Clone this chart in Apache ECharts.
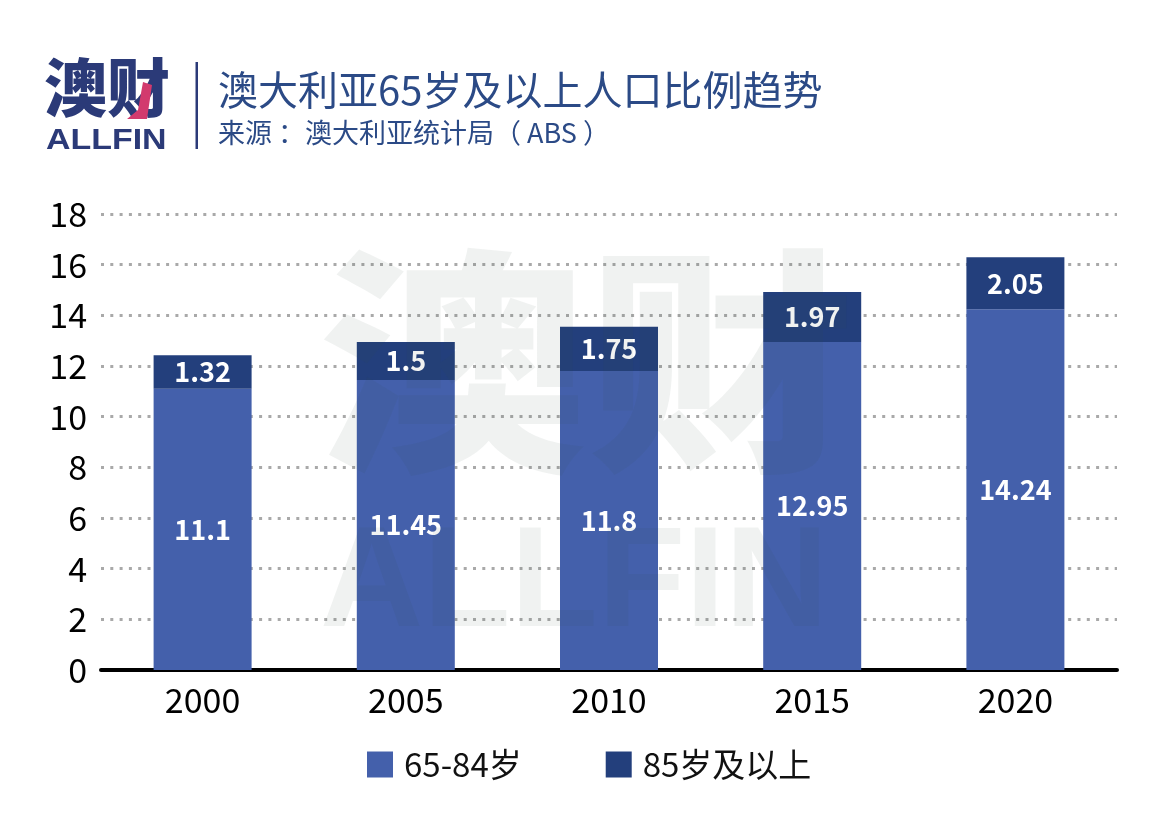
<!DOCTYPE html>
<html>
<head>
<meta charset="utf-8">
<style>html,body{margin:0;padding:0;background:#fff}#main{width:1165px;height:827px}</style>
<script src="https://cdn.jsdelivr.net/npm/echarts@6/dist/echarts.min.js"></script>
</head>
<body>
<div id="main"></div>
<script>
var years = ['2000', '2005', '2010', '2015', '2020'];
var age65to84 = [11.1, 11.45, 11.8, 12.95, 14.24];
var age85plus = [1.32, 1.5, 1.75, 1.97, 2.05];
var seriesNames = ['65-84岁', '85岁及以上'];
var titleText = '澳大利亚65岁及以上人口比例趋势';
var sourceText = '来源 ：澳大利亚统计局（ ABS ）';

var cjk = '"Noto Sans CJK SC"';
var navy = '#2b3a78';
var markFill = 'rgba(60,80,72,0.075)';

var chart = echarts.init(document.getElementById('main'));
var option = {
    backgroundColor: '#ffffff',
    animation: false,
    textStyle: { fontFamily: cjk },
    color: ['#4460ab', '#233f7c'],
    legend: {
        data: seriesNames,
        left: 362,
        top: 743,
        itemWidth: 26,
        itemHeight: 26,
        itemGap: 84,
        icon: 'rect',
        textStyle: { fontSize: 33, color: '#111', fontFamily: cjk, padding: [0, 0, 0, 6] }
    },
    grid: { left: 101, top: 214, width: 1016, height: 456, containLabel: false },
    xAxis: {
        type: 'category',
        data: years,
        axisTick: { show: false },
        axisLine: { show: true, lineStyle: { color: '#000', width: 4 } },
        axisLabel: { margin: 13, fontSize: 34, color: '#000', fontFamily: cjk }
    },
    yAxis: {
        type: 'value',
        min: 0,
        max: 18,
        interval: 2,
        axisTick: { show: false },
        axisLine: { show: false },
        axisLabel: { margin: 14, fontSize: 34, color: '#000', fontFamily: cjk },
        splitLine: {
            show: true,
            lineStyle: { color: '#a9a9a9', width: 3, type: [3, 6.3] }
        }
    },
    series: [
        {
            name: seriesNames[0],
            type: 'bar',
            stack: 'total',
            barWidth: 98,
            data: age65to84,
            label: {
                show: true,
                position: 'inside',
                color: '#fff',
                fontSize: 27,
                fontWeight: 'bold',
                fontFamily: cjk
            }
        },
        {
            name: seriesNames[1],
            type: 'bar',
            stack: 'total',
            barWidth: 98,
            data: age85plus,
            label: {
                show: true,
                position: 'inside',
                color: '#fff',
                fontSize: 27,
                fontWeight: 'bold',
                fontFamily: cjk
            }
        }
    ],
    graphic: [
        // watermark
        { type: 'text', z: 20, x: 318, y: 242, scaleX: 1.12, style: { text: '澳财', fontSize: 240, fontWeight: 900, fontFamily: cjk, fill: markFill } },
        { type: 'text', z: 20, left: 320, top: 515, style: { text: 'ALLFIN', fontSize: 143, fontWeight: 'bold', fontFamily: 'Liberation Sans', fill: markFill } },
        // logo
        { type: 'text', left: 44, top: 56, style: { text: '澳财', fontSize: 63, fontWeight: 900, fontFamily: cjk, fill: navy } },
        { type: 'polygon', z: 30, shape: { points: [[143, 82], [152, 85], [147, 119], [127, 119], [138, 110]] }, style: { fill: '#d23a6e' } },
        { type: 'text', x: 46, y: 126, scaleX: 1.17, style: { text: 'ALLFIN', fontSize: 29, fontWeight: 'bold', fontFamily: 'Liberation Sans', fill: navy } },
        { type: 'rect', shape: { x: 195.5, y: 62, width: 2.5, height: 87 }, style: { fill: navy } },
        // heading
        { type: 'text', left: 218, top: 70, style: { text: titleText, fontSize: 40, fontFamily: cjk, fill: '#2b4a86' } },
        { type: 'text', left: 218, top: 119, style: { text: sourceText, fontSize: 27, fontFamily: cjk, fill: '#2b4a86' } }
    ]
};
chart.setOption(option);
</script>
</body>
</html>
